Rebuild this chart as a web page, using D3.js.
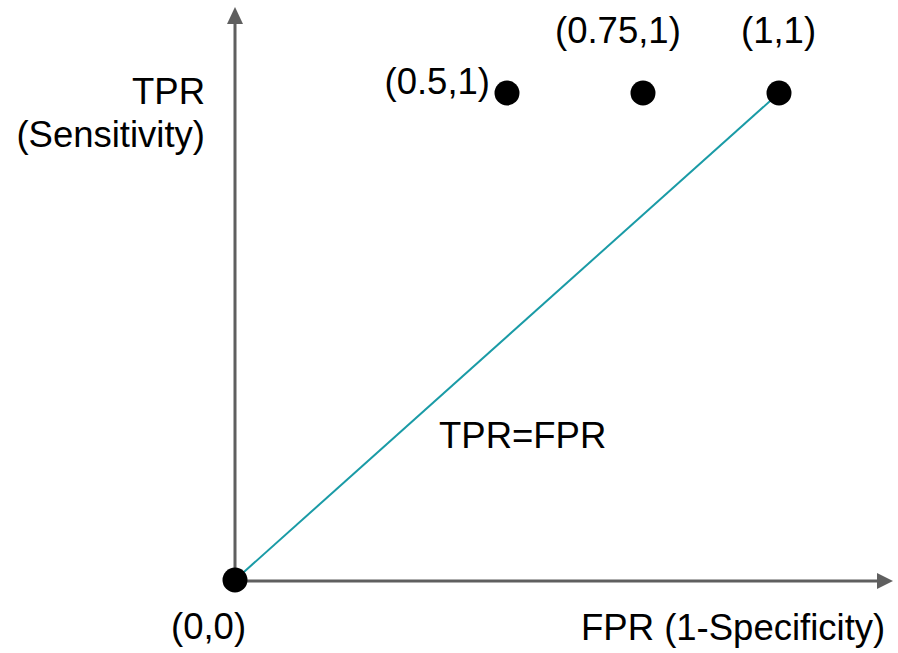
<!DOCTYPE html>
<html>
<head>
<meta charset="utf-8">
<script src="https://cdn.jsdelivr.net/npm/d3@7"></script>
<style>
  html, body { margin: 0; padding: 0; background: #fff; }
  svg { display: block; }
  text { font-family: "Liberation Sans", Arial, sans-serif; fill: #000; }
</style>
</head>
<body>
<svg id="chart" width="898" height="653"></svg>
<script>
// ROC space: operating points (FPR, TPR) and their labels
const pointFPR = [0, 0.5, 0.75, 1];
const pointTPR = [0, 1, 1, 1];
const pointLabels = ["(0,0)", "(0.5,1)", "(0.75,1)", "(1,1)"];

// Chance diagonal TPR = FPR
const diagFPR = [0, 1];
const diagTPR = [0, 1];

const xTitle = "FPR (1-Specificity)";
const yTitle = ["TPR", "(Sensitivity)"];
const diagLabel = "TPR=FPR";

const svg = d3.select("#chart");

const x = d3.scaleLinear().domain([0, 1]).range([235, 779]);
const y = d3.scaleLinear().domain([0, 1]).range([580, 93]);

const axisColor = "#5f5f5f";
const fontSize = 36.5;

// Axes with arrow heads
const ox = x(0), oy = y(0) + 1;
svg.append("line")
  .attr("x1", ox).attr("y1", oy).attr("x2", ox).attr("y2", 22)
  .attr("stroke", axisColor).attr("stroke-width", 3);
svg.append("path")
  .attr("d", `M${ox},7 L${ox - 8},24 L${ox + 8},24 Z`)
  .attr("fill", axisColor);

svg.append("line")
  .attr("x1", ox).attr("y1", oy).attr("x2", 879).attr("y2", oy)
  .attr("stroke", axisColor).attr("stroke-width", 3);
svg.append("path")
  .attr("d", `M893,${oy} L877,${oy - 8} L877,${oy + 8} Z`)
  .attr("fill", axisColor);

// Diagonal
const diag = diagFPR.map((d, i) => [x(d), y(diagTPR[i])]);
svg.append("path")
  .attr("d", d3.line()(diag))
  .attr("fill", "none")
  .attr("stroke", "#1a9ba6")
  .attr("stroke-width", 2);

// Points
const pts = pointFPR.map((d, i) => ({ fpr: d, tpr: pointTPR[i], label: pointLabels[i] }));
svg.selectAll("circle.pt")
  .data(pts)
  .join("circle")
  .attr("class", "pt")
  .attr("cx", d => x(d.fpr))
  .attr("cy", d => y(d.tpr))
  .attr("r", 12.5)
  .attr("fill", "#000");

// Point labels
const labelPlace = {
  "(0,0)":    { dx: -64, dy: 59,  anchor: "start" },
  "(0.5,1)":  { dx: -17, dy: 1,   anchor: "end" },
  "(0.75,1)": { dx: -88, dy: -50, anchor: "start" },
  "(1,1)":    { dx: -38, dy: -50, anchor: "start" }
};
svg.selectAll("text.pl")
  .data(pts)
  .join("text")
  .attr("class", "pl")
  .attr("x", d => x(d.fpr) + labelPlace[d.label].dx)
  .attr("y", d => y(d.tpr) + labelPlace[d.label].dy)
  .attr("text-anchor", d => labelPlace[d.label].anchor)
  .attr("font-size", fontSize)
  .text(d => d.label);

// Axis titles
svg.append("text")
  .attr("x", 581).attr("y", 640)
  .attr("font-size", fontSize)
  .text(xTitle);

svg.append("text")
  .attr("x", 205).attr("y", 104)
  .attr("text-anchor", "end")
  .attr("font-size", fontSize)
  .selectAll("tspan")
  .data(yTitle)
  .join("tspan")
  .attr("x", 205)
  .attr("dy", (d, i) => i === 0 ? 0 : 43)
  .text(d => d);

// Diagonal label
svg.append("text")
  .attr("x", 439).attr("y", 448)
  .attr("font-size", fontSize)
  .text(diagLabel);
</script>
</body>
</html>
